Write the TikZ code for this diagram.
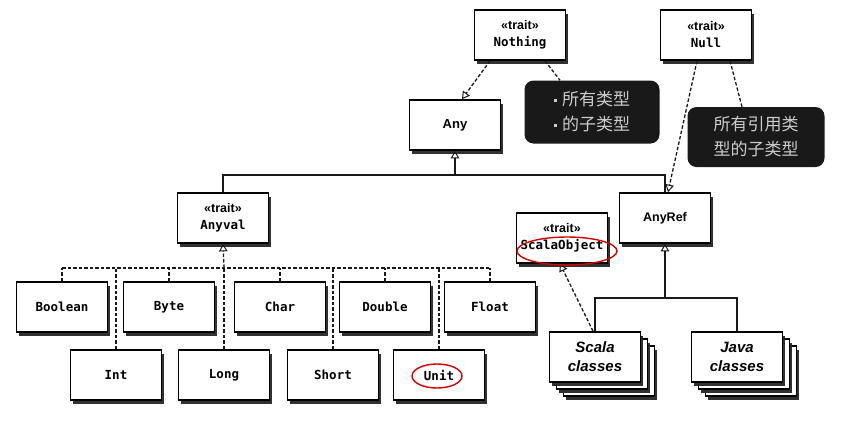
\documentclass[tikz,border=0pt]{standalone}
\usepackage{fontspec}
\setmainfont{Liberation Sans}
\setsansfont{Liberation Sans}
\setmonofont{DejaVu Sans Mono}
\newfontfamily\cjk{Noto Sans CJK SC}
\usetikzlibrary{arrows.meta,shadows}
\newcommand{\stereo}{{\sffamily\bfseries\fontsize{12.5}{14}\selectfont «trait»}}
\begin{document}
\begin{tikzpicture}[x=1pt,y=-1pt,
  cls/.style={draw, line width=1.7pt, fill=white, minimum width=91pt, minimum height=50pt,
    align=center, inner sep=2pt,
    font=\ttfamily\bfseries\fontsize{12.5}{17}\selectfont,
    drop shadow={shadow xshift=2.5pt, shadow yshift=-3.5pt, fill=black!85, opacity=0.95}},
  sanscls/.style={cls, font=\sffamily\bfseries\fontsize{13}{16}\selectfont},
  stackcls/.style={cls, font=\sffamily\bfseries\itshape\fontsize{15}{19}\selectfont},
  backcls/.style={draw, line width=1.7pt, fill=white, minimum width=91pt, minimum height=50pt,
    drop shadow={shadow xshift=2.5pt, shadow yshift=-3.5pt, fill=black!85, opacity=0.95}},
  note/.style={fill=black!90, rounded corners=9pt, text=black!20, align=left,
    font=\cjk\fontsize{17}{25}\selectfont, inner sep=4pt},
  link/.style={line width=1.3pt, draw=black!90},
  inh/.style={link, -{Triangle[open, width=8.5pt, length=7.5pt, line width=1pt]}},
  dsh/.style={dash pattern=on 3.5pt off 2pt},
  redmark/.style={draw=red!85!black, line width=1.4pt}
]
\useasboundingbox[fill=white] (0,0) rectangle (853,426);

% top level
\node[cls] (nothing) at (520,35) {\stereo\\Nothing};
\node[cls] (null) at (706,35) {\stereo\\Null};
\node[sanscls] (any) at (455,125) {Any};
\node[note, minimum width=135pt, minimum height=63pt] (note1) at (592,112)
  {\rule[4pt]{3pt}{3pt}\hspace{5pt}所有类型\\\rule[4pt]{3pt}{3pt}\hspace{5pt}的子类型};
\node[note, minimum width=137pt, minimum height=60pt] (note2) at (756,137)
  {所有引用类\\型的子类型};

% second level
\node[cls] (anyval) at (223,218) {\stereo\\Anyval};
\node[sanscls, font=\sffamily\bfseries\fontsize{12.5}{16}\selectfont] (anyref) at (665,218) {AnyRef};
\node[cls] (scalaobj) at (562,238) {\stereo\\ScalaObject};

% value classes
\node[cls] (boolean) at (62,307) {Boolean};
\node[cls] (byte) at (169,307) {Byte};
\node[cls] (char) at (280,307) {Char};
\node[cls] (double) at (385,307) {Double};
\node[cls] (float) at (490,307) {Float};
\node[cls] (int) at (116,375) {Int};
\node[cls] (long) at (224,375) {Long};
\node[cls] (short) at (333,375) {Short};
\node[cls] (unit) at (439,375) {Unit};

% reference classes (stacked)
\node[backcls] (scalab2) at (609,371) {};
\node[backcls] (scalab1) at (602,364) {};
\node[stackcls] (scala) at (595,357) {Scala\\classes};
\node[backcls] (javab2) at (751,371) {};
\node[backcls] (javab1) at (744,364) {};
\node[stackcls] (java) at (737,357) {Java\\classes};

% junctions
\coordinate (jA) at (455,175);
\coordinate (bus) at (224,268);
\coordinate (jR) at (665,298);

% Nothing / Null links
\draw[inh, dsh] ([xshift=-30pt]nothing.south) -- ([xshift=7pt]any.north);
\draw[link, dsh] ([xshift=25pt]nothing.south) -- ([xshift=-32pt]note1.north);
\draw[inh, dsh] ([xshift=-9pt]null.south) -- ([xshift=3pt]anyref.north);
\draw[link, dsh] ([xshift=24pt]null.south) -- ([xshift=-14pt]note2.north);

% Any tree
\draw[link] (anyval.north) |- (jA) -| (anyref.north);
\draw[inh] (jA) -- (any.south);

% AnyVal bus
\draw[link, dsh] (boolean.north |- bus) -- (float.north |- bus);
\draw[inh, dsh] (bus) -- (anyval.south);
\foreach \c in {boolean, byte, char, double, float, int, long, short, unit}
  \draw[link, dsh] (\c.north) -- (\c.north |- bus);

% AnyRef tree
\draw[link] (scala.north) |- (jR) -| (java.north);
\draw[inh] (jR) -- (anyref.south);
\draw[inh, dsh] ([xshift=-2pt]scala.north) -- ([xshift=-2pt]scalaobj.south);

% red hand-drawn marks
\draw[redmark] (567,251) ellipse [x radius=50, y radius=14];
\draw[redmark] (437,376) ellipse [x radius=25, y radius=12];
\end{tikzpicture}
\end{document}
